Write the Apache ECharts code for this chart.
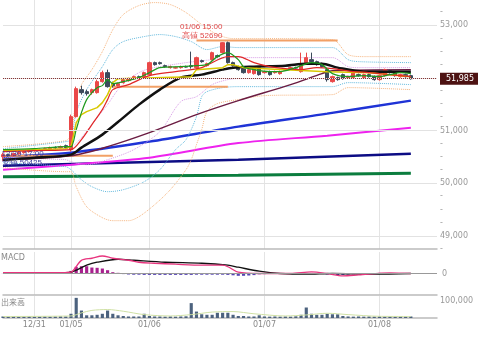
<!DOCTYPE html>
<html><head><meta charset="utf-8">
<script src="https://cdn.jsdelivr.net/npm/echarts@6/dist/echarts.min.js"></script>
<style>html,body{margin:0;padding:0;background:#fff}#c{width:480px;height:339px}</style>
</head><body><div id="c"></div>
<script>
const N_CATS = 84;
const dayTicks = [[6,'12/31'],[13,'01/05'],[28,'01/06'],[50,'01/07'],[72,'01/08']];
const priceGridLevels = [49000,50000,51000,52000,53000];
const lastPrice = 51985;
const highNote = ['01/06 15:00','高値 52690'];
const highPoint = [43, 52690];
const lowNote = ['12/30 17:00','安値 50425'];
const lowPoint = [0, 50425];

// [open, close, low, high]
const candles = [
 [50504,50543,50425,50580],[50543,50523,50504,50561],[50523,50561,50504,50580],[50561,50580,50543,50600],
 [50580,50600,50561,50619],[50600,50619,50580,50638],[50619,50638,50600,50657],[50638,50628,50610,50657],
 [50638,50657,50619,50676],[50657,50676,50638,50695],[50676,50670,50650,50700],[50676,50695,50657,50714],
 [50714,50676,50657,50733],[50638,51265,50600,51303],[51265,51797,51246,51835],[51778,51721,51683,51854],
 [51740,51702,51664,51778],[51721,51778,51683,51797],[51721,51930,51702,51968],[51930,52101,51911,52139],
 [52101,51835,51816,52158],[51892,51854,51816,51930],[51854,51892,51835,51911],[51911,51968,51892,51987],
 [51949,51987,51930,52006],[51987,52025,51968,52044],[52025,52006,51987,52044],[52025,52101,52006,52120],
 [52063,52291,52044,52310],[52291,52253,52234,52310],[52291,52272,52253,52310],[52234,52215,52196,52253],
 [52196,52215,52177,52234],[52187,52196,52177,52215],[52196,52215,52177,52234],[52215,52206,52196,52234],
 [52234,52215,52177,52500],[52196,52386,52177,52405],[52329,52310,52291,52348],[52234,52272,52215,52291],
 [52348,52481,52329,52500],[52424,52405,52386,52444],[52481,52670,52462,52680],[52670,52291,52272,52690],
 [52291,52234,52215,52310],[52215,52158,52139,52234],[52177,52101,52082,52196],[52101,52158,52082,52177],
 [52082,52196,52063,52215],[52196,52063,52044,52215],[52101,52120,52082,52139],[52120,52063,52044,52139],
 [52101,52120,52082,52139],[52082,52120,52063,52139],[52158,52149,52139,52177],[52177,52196,52158,52215],
 [52196,52187,52177,52215],[52120,52272,52101,52481],[52291,52386,52272,52481],[52348,52310,52291,52481],
 [52310,52253,52234,52329],[52272,52215,52196,52291],[52158,51968,51930,52196],[51930,52025,51911,52044],
 [52006,51968,51949,52025],[52063,51987,51968,52082],[52006,52025,51987,52044],[52006,52101,51987,52120],
 [52063,52044,52025,52082],[52006,52063,51987,52082],[52063,52025,52006,52082],[52025,51968,51949,52044],
 [51968,52044,51949,52063],[52044,52158,52025,52177],[52139,52101,52082,52158],[52101,52044,52025,52120],
 [52025,52063,52006,52082],[52063,52025,52006,52082],[52044,51985,51968,52063]
];

const maShort = [[0,50638],[6,50657],[12,50695],[13,50695],[14,51018],[15,51341],[16,51588],[17,51721],[18,51816],[19,51854],[20,51968],[21,51892],[23,51930],[26,52006],[28,52101],[30,52196],[34,52215],[37,52234],[39,52253],[41,52405],[43,52481],[45,52348],[46,52215],[48,52158],[51,52120],[53,52120],[56,52196],[59,52291],[61,52253],[63,52082],[66,52025],[69,52044],[72,52025],[74,52063],[76,52101],[78,52082]];
const maMid = [[0,50600],[6,50619],[13,50638],[15,50828],[17,51113],[19,51398],[20,51588],[21,51778],[24,51873],[28,52044],[33,52120],[38,52196],[43,52405],[45,52405],[48,52291],[51,52215],[54,52177],[57,52158],[60,52196],[63,52177],[67,52120],[70,52101],[78,52025]];
const maStep = [[0,50619],[12,50657],[13,50695],[14,51151],[15,51303],[16,51360],[17,51398],[18,51436],[19,51531],[20,51683],[21,51911],[22,51987],[36,52025],[37,52158],[42,52196],[43,52253],[44,52253],[46,52196],[54,52158],[62,52120],[70,52101],[78,52025]];
const maBlack = [[0,50447],[6,50485],[13,50543],[15,50676],[19,50923],[23,51246],[26,51493],[30,51778],[34,52006],[38,52063],[42,52158],[44,52196],[48,52215],[54,52234],[58,52272],[61,52272],[64,52196],[69,52120],[78,52120]];
const maMaroon = [[0,50447],[13,50523],[20,50695],[28,50961],[37,51303],[45,51569],[55,51873],[61,52082],[63,52139],[78,52158]];
const maBlue = [[0,50504],[13,50580],[28,50790],[45,51075],[62,51322],[78,51569]];
const maMagenta = [[0,50257],[13,50352],[28,50485],[45,50762],[62,50904],[78,51056]];
const maNavy = [[0,50333],[45,50447],[78,50561]];
const maGreen = [[0,50124],[45,50153],[78,50191]];

const bbUp3 = [[0,50695],[12,50809],[13,50923],[14,51588],[15,51873],[17,52158],[19,52500],[21,52918],[23,53204],[26,53375],[29,53432],[32,53394],[35,53242],[38,53014],[41,52824],[44,52748],[50,52748],[63,52729],[66,52444],[69,52405],[78,52405]];
const bbUp2 = [[0,50657],[12,50790],[13,50828],[14,51341],[16,51778],[19,52215],[21,52539],[23,52691],[27,52786],[30,52824],[33,52786],[36,52691],[39,52539],[42,52596],[45,52577],[63,52577],[66,52348],[68,52310],[78,52291]];
const bbUp1 = [[0,50619],[12,50657],[13,50676],[15,50866],[18,51246],[20,51493],[22,51778],[24,51968],[26,52101],[28,52177],[35,52291],[40,52348],[44,52386],[63,52386],[66,52215],[68,52196],[78,52196]];
const bbLo1 = [[0,50485],[12,50447],[13,50409],[16,50352],[20,50447],[25,50638],[30,50980],[34,51550],[37,51645],[40,51873],[43,51968],[45,51987],[63,51987],[66,52044],[78,52044]];
const bbLo2 = [[0,50390],[12,50314],[13,50257],[15,50067],[17,49934],[20,49839],[23,49877],[27,50029],[30,50257],[33,50638],[35,50828],[37,51265],[38,51645],[39,51740],[42,51816],[45,51835],[63,51835],[66,51911],[78,51873]];
const bbLo3 = [[0,50295],[12,50219],[13,50219],[14,49934],[16,49554],[19,49345],[21,49288],[24,49288],[26,49364],[29,49592],[32,49877],[35,50257],[36,50447],[37,50733],[38,51018],[39,51360],[41,51512],[45,51588],[50,51664],[63,51683],[66,51816],[78,51778]];

const levelHigh = [[37,52710],[64,52710]];
const levelMid = [[21,51835],[43,51835]];
const levelLow = [[0,50523],[21,50523]];

const macdLine = [[0,20],[6,22],[12,25],[13,33],[15,330],[17,383],[19,440],[21,383],[24,333],[26,283],[29,258],[33,233],[38,208],[42,208],[43,170],[45,33],[49,0],[55,0],[59,40],[62,0],[65,-60],[68,-35],[74,15],[78,0]];
const signalLine = [[0,18],[12,22],[13,33],[16,208],[18,283],[22,358],[25,333],[31,283],[38,258],[43,208],[45,158],[49,58],[53,0],[58,-17],[63,0],[71,-17],[78,0]];
const macdHist = [3,3,4,4,5,5,5,5,4,4,4,3,3,65,168,183,183,150,143,125,83,33,17,
 -15,-25,-30,-30,-35,-35,-35,-35,-35,-35,-35,-35,-35,-35,-30,-30,-30,-30,-30,-30,-35,-45,-58,-58,-50,-40,-20,-15,-10,-10,-10,-5,-5,5,10,15,15,5,-10,-25,-35,-40,-35,-25,-20,-10,-5,5,10,15,10,10,5,5,0,0];

const volume = [9000,8000,9000,7000,8000,9000,7000,8000,9000,8000,9000,10000,9000,
 25000,119000,44000,16000,16000,19000,25000,44000,25000,16000,
 12000,9000,9000,9000,25000,
 12000,9000,9000,8000,9000,8000,9000,10000,
 88000,38000,22000,19000,19000,31000,31000,31000,19000,
 12000,12000,9000,9000,16000,
 9000,8000,9000,8000,9000,8000,10000,
 19000,62000,25000,19000,19000,25000,22000,22000,12000,
 9000,8000,9000,8000,9000,8000,9000,8000,9000,8000,9000,8000,9000];
const volumeMA = [[0,9000],[13,12000],[15,30000],[17,45000],[20,50000],[23,40000],[27,20000],[32,12000],[36,20000],[40,35000],[44,38000],[48,25000],[54,12000],[58,18000],[62,28000],[66,20000],[72,10000],[78,9000]];

const categories = Array.from({length: N_CATS}, (_, i) => 'b' + i);
const labelMap = {}; dayTicks.forEach(d => labelMap[d[0]] = d[1]);
const dayIdx = dayTicks.map(d => d[0]);
const FONT = 'DejaVu Sans';

function xa(g, showLabel) {
  return {type:'category', gridIndex:g, data:categories, boundaryGap:false,
    axisLine:{show:true, onZero:false, lineStyle:{color:'#bbb', width:1.5}},
    axisTick:{show:false},
    axisLabel:{show:showLabel, interval:0, formatter:(v,i)=>labelMap[i]||'', color:'#888', fontSize:8, fontFamily:FONT, margin:3},
    splitLine:{show:true, interval:(i)=>dayIdx.includes(i), lineStyle:{color:'#e4e4e4', width:1}}};
}
function ln(data, color, width, type, smooth, z) {
  return {type:'line', xAxisIndex:0, yAxisIndex:0, data:data, showSymbol:false, symbol:'none',
    smooth:smooth, z:z||3, lineStyle:{color:color, width:width, type:type||'solid'}, silent:true};
}

const chart = echarts.init(document.getElementById('c'), null, {renderer:'canvas'});
chart.setOption({
  animation:false,
  grid:[
    {left:3, right:43, top:-1, height:250, outerBoundsMode:'none', containLabel:false},
    {left:3, right:43, top:252, height:43, outerBoundsMode:'none', containLabel:false},
    {left:3, right:43, top:296, height:22, outerBoundsMode:'none', containLabel:false}
  ],
  xAxis:[xa(0,false), xa(1,false), xa(2,true)],
  yAxis:[
    {gridIndex:0, type:'value', position:'right', min:48750, max:53500, interval:250,
     axisLine:{show:false}, axisTick:{show:false}, splitLine:{show:false},
     axisLabel:{margin:3, color:'#999', fontSize:8, fontFamily:FONT,
       formatter:v => v % 1000 === 0 ? v.toLocaleString('en-US') : '-'}},
    {gridIndex:1, type:'value', position:'right', min:-540, max:540, interval:540,
     axisLine:{show:false}, axisTick:{show:false}, splitLine:{show:false},
     axisLabel:{margin:5, color:'#999', fontSize:8, fontFamily:FONT, formatter:v => v === 0 ? '0' : ''}},
    {gridIndex:2, type:'value', position:'right', min:0, max:130000, interval:100000,
     axisLine:{show:false}, axisTick:{show:false}, splitLine:{show:false},
     axisLabel:{margin:3, color:'#999', fontSize:8, fontFamily:FONT,
       formatter:v => v === 100000 ? '100,000' : ''}}
  ],
  graphic:[
    {type:'text', left:1, top:254, style:{text:'MACD', fill:'#888', font:'8px "DejaVu Sans"'}},
    {type:'text', left:1, top:298, style:{text:'出来高', fill:'#888', font:'8px "Noto Sans CJK JP"'}}
  ],
  series:[
    {type:'line', xAxisIndex:0, yAxisIndex:0, data:maGreen, showSymbol:false, z:1, silent:true,
     lineStyle:{color:'#0b7d3e', width:3},
     markLine:{silent:true, symbol:'none', label:{show:false}, lineStyle:{color:'#e2e2e2', width:1, type:'solid'},
       data: priceGridLevels.map(v => ({yAxis:v}))}},
    ln(maNavy, '#0c0c84', 2.5, 'solid', false, 2),
    ln(maMagenta, '#ee22ee', 2, 'solid', 0.3, 2),
    ln(maBlue, '#1f33d6', 2.5, 'solid', 0.3, 2),
    ln(bbUp3, '#f5b47e', 1, 'dotted', 0.3, 2),
    ln(bbLo3, '#f5b47e', 1, 'dotted', 0.3, 2),
    ln(bbUp2, '#62b8dc', 1, 'dotted', 0.3, 2),
    ln(bbLo2, '#62b8dc', 1, 'dotted', 0.3, 2),
    ln(bbUp1, '#d79be6', 1, 'dotted', 0.3, 2),
    ln(bbLo1, '#d79be6', 1, 'dotted', 0.3, 2),
    ln(levelHigh, '#f2a066', 2, 'solid', false, 2),
    ln(levelMid, '#f2a066', 2, 'solid', false, 2),
    ln(levelLow, '#f2a066', 2, 'solid', false, 2),
    ln(maMaroon, '#6b1c42', 1.5, 'solid', 0.3, 2),
    {type:'candlestick', xAxisIndex:0, yAxisIndex:0, data:candles, barWidth:'72%', z:3, silent:true,
     itemStyle:{color:'#ea4848', color0:'#3c4a5b', borderColor:'#ea4848', borderColor0:'#3c4a5b', borderWidth:1},
     markLine:{silent:true, symbol:'none', data:[{yAxis:lastPrice}],
       lineStyle:{type:'dotted', color:'#8a3434', width:1},
       label:{show:true, position:'end', distance:3, formatter:()=>lastPrice.toLocaleString('en-US'),
         backgroundColor:'#4d1212', color:'#fff', padding:[2,4,2,6], fontSize:8, fontFamily:FONT}},
     markPoint:{symbol:'circle', symbolSize:1, itemStyle:{color:'rgba(0,0,0,0)'}, silent:true,
       data:[
        {coord:highPoint, label:{show:true, formatter:highNote.join('\n'), position:[-5,-1], align:'right', verticalAlign:'bottom',
          color:'#e04848', fontSize:8, lineHeight:9, fontFamily:'Liberation Sans'}},
        {coord:lowPoint, label:{show:true, formatter:lowNote.join('\n'), position:[-1,-2], align:'left', verticalAlign:'middle',
          color:'#3a3a9a', fontSize:8, lineHeight:9, fontFamily:'Liberation Sans'}}
       ]}},
    ln(maBlack, '#111111', 2.5, 'solid', 0.3, 4),
    ln(maStep, '#d8c800', 1.5, 'solid', false, 4),
    ln(maMid, '#e02828', 1.2, 'solid', 0.3, 4),
    ln(maShort, '#1f9a1f', 1.2, 'solid', 0.3, 4),

    {type:'bar', xAxisIndex:1, yAxisIndex:1, data:macdHist, barWidth:'60%', silent:true,
     itemStyle:{color:p => p.value >= 0 ? '#a8208e' : '#5543b4'}},
    {type:'line', xAxisIndex:1, yAxisIndex:1, data:signalLine, showSymbol:false, smooth:0.3, silent:true,
     lineStyle:{color:'#111', width:1.3},
     markLine:{silent:true, symbol:'none', label:{show:false}, lineStyle:{color:'#999', width:1, type:'solid'}, data:[{yAxis:0}]}},
    {type:'line', xAxisIndex:1, yAxisIndex:1, data:macdLine, showSymbol:false, smooth:0.3, silent:true,
     lineStyle:{color:'#e8347e', width:1.3}},

    {type:'bar', xAxisIndex:2, yAxisIndex:2, data:volume, barWidth:'60%', silent:true,
     itemStyle:{color:'#4c627e'}},
    {type:'line', xAxisIndex:2, yAxisIndex:2, data:volumeMA, showSymbol:false, smooth:0.3, silent:true,
     lineStyle:{color:'#cfe0a4', width:1}}
  ]
});
</script>
</body></html>
